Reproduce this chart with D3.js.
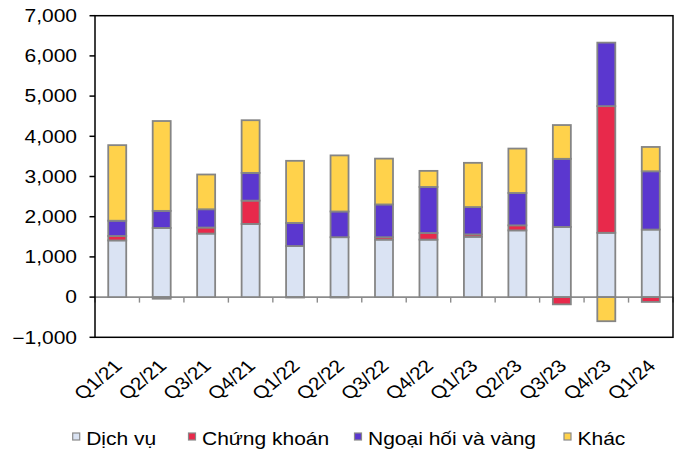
<!DOCTYPE html>
<html>
<head>
<meta charset="utf-8">
<script src="https://cdn.jsdelivr.net/npm/d3@7"></script>
<style>
  html, body { margin: 0; padding: 0; background: #fff; }
  svg { display: block; }
  text { font-family: "Liberation Sans", Arial, sans-serif; fill: #000; }
</style>
</head>
<body>
<svg id="chart" width="681" height="453"></svg>
<script>
// Quarterly contributions by component (stacked, diverging around zero)
const quarters = ["Q1/21","Q2/21","Q3/21","Q4/21","Q1/22","Q2/22","Q3/22","Q4/22","Q1/23","Q2/23","Q3/23","Q4/23","Q1/24"];
const seriesNames = ["Dịch vụ","Chứng khoán","Ngoại hối và vàng","Khác"];
const dichVu    = [1410, 1720, 1580, 1820, 1270, 1490, 1430, 1430, 1500, 1660, 1745, 1600, 1680];
const chungKhoan= [ 110,  -40,  150,  580,  -10,  -10,   60,  165,   60,  125, -180, 3150, -120];
const ngoaiHoi  = [ 380,  425,  455,  690,  575,  640,  815, 1145,  680,  805, 1695, 1580, 1450];
const khac      = [1880, 2235,  865, 1310, 1545, 1395, 1140,  400, 1100, 1105,  840, -600,  605];
const yTicks    = [-1000, 0, 1000, 2000, 3000, 4000, 5000, 6000, 7000];

const colors = ["#DAE3F3", "#E8294B", "#5B37CF", "#FFD24B"];
const SX = 1.2;   // horizontal stretch applied to all labels
const FS = 17.5;

const svg = d3.select("#chart");
const plotLeft = 95, plotRight = 673, plotTop = 15.7, plotBottom = 337.3;

const x = d3.scaleBand().domain(quarters).range([plotLeft, plotRight]).paddingInner(0).paddingOuter(0);
const y = d3.scaleLinear().domain([-1000, 7000]).range([plotBottom, plotTop]);
const barW = 18;

const rows = quarters.map((q, i) => ({
  q,
  [seriesNames[0]]: dichVu[i],
  [seriesNames[1]]: chungKhoan[i],
  [seriesNames[2]]: ngoaiHoi[i],
  [seriesNames[3]]: khac[i]
}));
const stacked = d3.stack().keys(seriesNames).offset(d3.stackOffsetDiverging)(rows);

// zero line with category separators
svg.append("line")
  .attr("x1", plotLeft).attr("x2", plotRight)
  .attr("y1", y(0)).attr("y2", y(0))
  .attr("stroke", "#8c8c8c").attr("stroke-width", 1.6);
svg.append("g").selectAll("line")
  .data(d3.range(quarters.length + 1))
  .join("line")
  .attr("x1", i => plotLeft + i * x.bandwidth())
  .attr("x2", i => plotLeft + i * x.bandwidth())
  .attr("y1", y(0)).attr("y2", y(0) + 5.5)
  .attr("stroke", "#8c8c8c").attr("stroke-width", 1.4);

// stacked bars
svg.append("g").selectAll("g")
  .data(stacked)
  .join("g")
  .attr("fill", (d, i) => colors[i])
  .selectAll("rect")
  .data(d => d)
  .join("rect")
  .attr("x", d => x(d.data.q) + (x.bandwidth() - barW) / 2)
  .attr("y", d => y(Math.max(d[0], d[1])))
  .attr("width", barW)
  .attr("height", d => Math.abs(y(d[0]) - y(d[1])))
  .attr("stroke", "#858585")
  .attr("stroke-width", 1.8);

// plot frame
svg.append("rect")
  .attr("x", plotLeft).attr("y", plotTop)
  .attr("width", plotRight - plotLeft).attr("height", plotBottom - plotTop)
  .attr("fill", "none").attr("stroke", "#000").attr("stroke-width", 1.5);

// y axis
const yAxis = svg.append("g");
yAxis.selectAll("line")
  .data(yTicks)
  .join("line")
  .attr("x1", plotLeft - 5.5).attr("x2", plotLeft)
  .attr("y1", d => y(d)).attr("y2", d => y(d))
  .attr("stroke", "#000").attr("stroke-width", 1.5);
yAxis.selectAll("text")
  .data(yTicks)
  .join("text")
  .attr("transform", d => `translate(77,${y(d)}) scale(${SX},1)`)
  .attr("text-anchor", "end")
  .attr("dy", "0.36em")
  .attr("font-size", FS)
  .text(d => d3.format(",")(d));

// x labels, rotated
svg.append("g").selectAll("text")
  .data(quarters)
  .join("text")
  .attr("transform", d => `translate(${x(d) + x.bandwidth() / 2 + 6},${367}) scale(${SX},1) rotate(-45)`)
  .attr("text-anchor", "end")
  .attr("font-size", FS)
  .text(d => d);

// legend
const legendX = [72.7, 188.5, 354.5, 564];
const legend = svg.append("g").selectAll("g")
  .data(seriesNames)
  .join("g")
  .attr("transform", (d, i) => `translate(${legendX[i]},0)`);
legend.append("rect")
  .attr("x", 0).attr("y", 433)
  .attr("width", 7).attr("height", 7)
  .attr("fill", (d, i) => colors[i])
  .attr("stroke", "#8a8a8a").attr("stroke-width", 1.2);
legend.append("text")
  .attr("transform", `translate(13.5,445) scale(${SX},1)`)
  .attr("font-size", FS)
  .text(d => d);
</script>
</body>
</html>
